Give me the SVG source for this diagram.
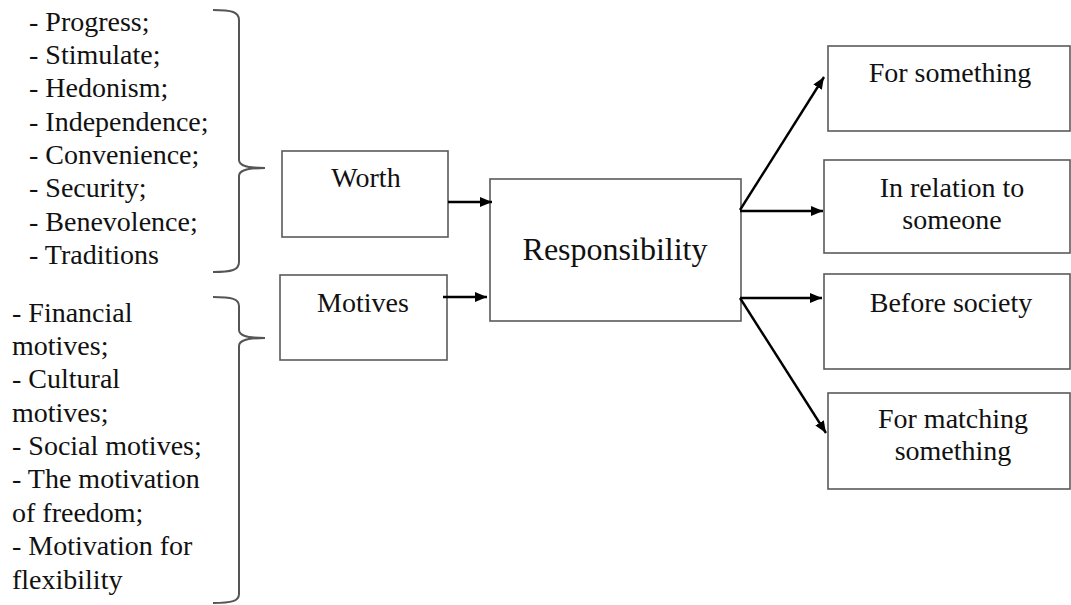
<svg xmlns="http://www.w3.org/2000/svg" width="1071" height="605" viewBox="0 0 1071 605">
  <style>
    .box { fill: #ffffff; stroke: #5a5a5a; stroke-width: 1.6; }
    .t { font-family: "Times New Roman", Times, "Liberation Serif", "DejaVu Serif", "Noto Serif", serif; font-size: 28px; fill: #111; }
    .c { text-anchor: middle; }
    .big { font-size: 32px; }
    .brace { fill: none; stroke: #555; stroke-width: 2; }
    .link { fill: none; stroke: #000; stroke-width: 2.4; }
  </style>
  <defs>
    <marker id="arrow" viewBox="0 0 12 10" refX="12" refY="5" markerWidth="12" markerHeight="10" markerUnits="userSpaceOnUse" orient="auto">
      <path d="M0,0 L12,5 L0,10 Z" fill="#000"/>
    </marker>
  </defs>
  <rect width="1071" height="605" fill="#ffffff"/>

  <!-- value list -->
  <g id="values">
    <text class="t" x="29" y="31">- Progress;</text>
    <text class="t" x="29" y="64">- Stimulate;</text>
    <text class="t" x="29" y="97">- Hedonism;</text>
    <text class="t" x="29" y="131">- Independence;</text>
    <text class="t" x="29" y="164">- Convenience;</text>
    <text class="t" x="29" y="197">- Security;</text>
    <text class="t" x="29" y="231">- Benevolence;</text>
    <text class="t" x="29" y="264">- Traditions</text>
    <path class="brace" d="M213,10 C232,10 239,12 239,20 L239,160 C239,166 248,168 265,168 C248,168 239,170 239,176 L239,262 C239,270 232,272 213,272"/>
  </g>

  <!-- motive list -->
  <g id="motive-list">
    <text class="t" x="12" y="322">- Financial</text>
    <text class="t" x="12" y="355">motives;</text>
    <text class="t" x="12" y="388">- Cultural</text>
    <text class="t" x="12" y="422">motives;</text>
    <text class="t" x="12" y="455">- Social motives;</text>
    <text class="t" x="12" y="488">- The motivation</text>
    <text class="t" x="12" y="522">of freedom;</text>
    <text class="t" x="12" y="555">- Motivation for</text>
    <text class="t" x="12" y="589">flexibility</text>
    <path class="brace" d="M213,297 C232,297 239,299 239,306 L239,330 C239,336 248,338 265,338 C248,338 239,340 239,346 L239,594 C239,601 232,603 213,603"/>
  </g>

  <g id="worth">
    <rect class="box" x="282" y="151" width="166" height="86"/>
    <text class="t c" x="366" y="187">Worth</text>
  </g>

  <g id="motives">
    <rect class="box" x="280" y="275" width="167" height="85"/>
    <text class="t c" x="363" y="312">Motives</text>
  </g>

  <g id="responsibility">
    <rect class="box" x="490" y="179" width="251" height="142"/>
    <text class="t c big" x="615" y="260">Responsibility</text>
  </g>

  <g id="for-something">
    <rect class="box" x="828" y="46" width="242" height="85"/>
    <text class="t c" x="950" y="82">For something</text>
  </g>

  <g id="in-relation">
    <rect class="box" x="824" y="160" width="246" height="93"/>
    <text class="t c" x="952" y="197">In relation to</text>
    <text class="t c" x="952" y="229">someone</text>
  </g>

  <g id="before-society">
    <rect class="box" x="824" y="274" width="246" height="95"/>
    <text class="t c" x="951" y="312">Before society</text>
  </g>

  <g id="for-matching">
    <rect class="box" x="828" y="393" width="242" height="96"/>
    <text class="t c" x="953" y="428">For matching</text>
    <text class="t c" x="953" y="460">something</text>
  </g>

  <g id="connectors">
    <line class="link" x1="448" y1="202" x2="492" y2="202" marker-end="url(#arrow)"/>
    <line class="link" x1="443" y1="297" x2="487" y2="297" marker-end="url(#arrow)"/>
    <line class="link" x1="740" y1="210" x2="824" y2="77" marker-end="url(#arrow)"/>
    <line class="link" x1="740" y1="211" x2="823" y2="211" marker-end="url(#arrow)"/>
    <line class="link" x1="740" y1="298" x2="822" y2="298" marker-end="url(#arrow)"/>
    <line class="link" x1="740" y1="298" x2="826" y2="433" marker-end="url(#arrow)"/>
  </g>
</svg>
